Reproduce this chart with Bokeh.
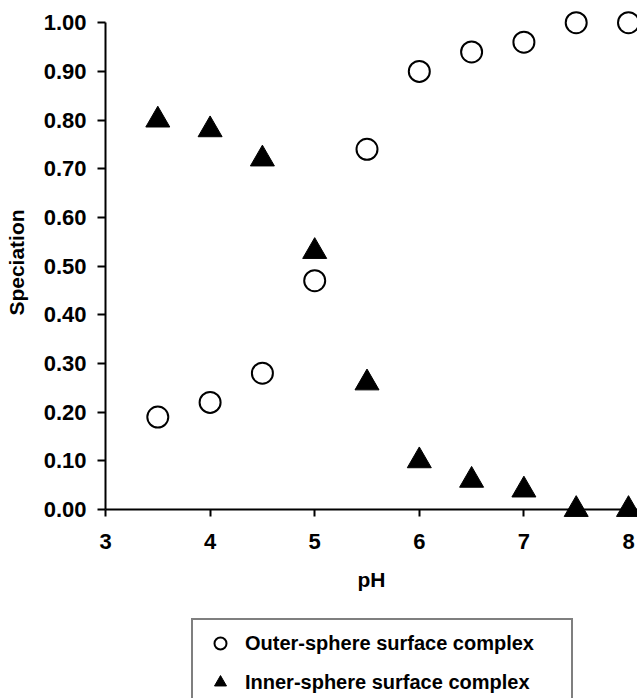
from bokeh.plotting import figure
from bokeh.layouts import column
from bokeh.models import (Range1d, LinearAxis, FixedTicker, NumeralTickFormatter,
                          Legend, LegendItem, Span)
from bokeh.embed import file_html
from bokeh.resources import INLINE

# Speciation of surface complexes as a function of pH
ph = [3.5, 4.0, 4.5, 5.0, 5.5, 6.0, 6.5, 7.0, 7.5, 8.0]
outer_sphere = [0.19, 0.22, 0.28, 0.47, 0.74, 0.90, 0.94, 0.96, 1.00, 1.00]
inner_sphere = [0.80, 0.78, 0.72, 0.53, 0.26, 0.10, 0.06, 0.04, 0.00, 0.00]

series_labels = ["Outer-sphere surface complex", "Inner-sphere surface complex"]
x_ticks = [3, 4, 5, 6, 7, 8]
y_ticks = [0.0, 0.1, 0.2, 0.3, 0.4, 0.5, 0.6, 0.7, 0.8, 0.9, 1.0]

FONT = "Liberation Sans"
PLOT_H = 610           # height of the chart figure
FRAME_H = 524          # frame height in px
ZERO_PX = 15           # px between frame bottom and the zero line
PX_PER_UNIT = 486.8
Y_START = -ZERO_PX / PX_PER_UNIT
Y_END = Y_START + FRAME_H / PX_PER_UNIT

OUTER_STYLE = dict(marker="circle", line_color="black", line_width=2,
                   fill_color="white")
INNER_STYLE = dict(marker="triangle", line_color="black", line_width=1,
                   fill_color="black")

p = figure(width=637, height=PLOT_H, output_backend="svg", toolbar_location=None,
           x_range=Range1d(3, 8.086), y_range=Range1d(Y_START, Y_END),
           x_axis_type=None, y_axis_type=None,
           min_border_left=105, min_border_right=0, min_border_top=0,
           min_border_bottom=PLOT_H - FRAME_H)
p.outline_line_color = None
p.background_fill_color = "white"
p.border_fill_color = "white"

def style_axis(ax):
    ax.axis_line_color = "black"
    ax.axis_line_width = 2
    ax.major_tick_line_color = "black"
    ax.major_tick_line_width = 2
    ax.major_tick_in = 0
    ax.minor_tick_line_color = None
    ax.major_label_text_font = FONT
    ax.major_label_text_font_style = "bold"
    ax.major_label_text_font_size = "22px"
    ax.major_label_text_color = "black"
    ax.axis_label_text_font = FONT
    ax.axis_label_text_font_style = "bold"
    ax.axis_label_text_font_size = "21px"
    ax.axis_label_text_color = "black"

# x axis sits at the frame's lower edge; its ticks are pulled up to the zero
# line, which is drawn as a span across the frame
xaxis = LinearAxis(ticker=FixedTicker(ticks=x_ticks), axis_label="pH")
style_axis(xaxis)
xaxis.axis_line_color = None
xaxis.major_tick_in = ZERO_PX
xaxis.major_tick_out = -(ZERO_PX - 7)
xaxis.major_label_standoff = 9
xaxis.axis_label_standoff = 16
p.add_layout(xaxis, "below")

p.add_layout(Span(location=0, dimension="width", line_color="black",
                  line_width=2))

yaxis = LinearAxis(ticker=FixedTicker(ticks=y_ticks), axis_label="Speciation",
                   formatter=NumeralTickFormatter(format="0.00"), bounds=(0, 1))
style_axis(yaxis)
yaxis.major_tick_out = 8
yaxis.major_label_standoff = 11
yaxis.axis_label_standoff = 13
p.add_layout(yaxis, "left")

p.scatter(ph, outer_sphere, size=21, **OUTER_STYLE)
p.scatter(ph, inner_sphere, size=24, **INNER_STYLE)

# legend strip under the chart; its key renderers carry the same series but
# the strip's ranges keep them out of view, so only the legend keys show
LEG_H = 698 - PLOT_H
leg_fig = figure(width=637, height=LEG_H, output_backend="svg",
                 toolbar_location=None, x_range=Range1d(0, 1),
                 y_range=Range1d(5, 6), x_axis_type=None, y_axis_type=None,
                 min_border=0)
leg_fig.outline_line_color = None
leg_fig.background_fill_color = "white"
leg_fig.border_fill_color = "white"
key_outer = leg_fig.scatter(ph, outer_sphere, size=21, **OUTER_STYLE)
key_inner = leg_fig.scatter(ph, inner_sphere, size=24, **INNER_STYLE)

legend = Legend(items=[
    LegendItem(label=series_labels[0], renderers=[key_outer]),
    LegendItem(label=series_labels[1], renderers=[key_inner]),
], location=(86, -9), orientation="vertical")
legend.margin = 0
legend.padding = 8
legend.spacing = 9
legend.glyph_width = 38
legend.glyph_height = 30
legend.label_height = 30
legend.label_width = 318
legend.label_standoff = 6
legend.label_text_font = FONT
legend.label_text_font_style = "bold"
legend.label_text_font_size = "20px"
legend.label_text_color = "black"
legend.border_line_color = "black"
legend.border_line_width = 2
legend.background_fill_color = "white"
legend.background_fill_alpha = 1.0
leg_fig.add_layout(legend, "center")

layout = column(p, leg_fig, spacing=0)
open("out.html", "w").write(file_html(layout, INLINE))
